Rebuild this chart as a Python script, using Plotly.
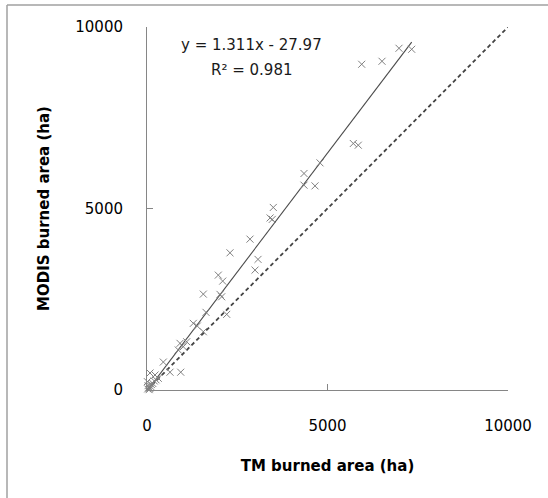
import plotly.graph_objects as go

# TM burned area (ha) vs MODIS burned area (ha)
tm_area = [6981, 7332, 5947, 6510, 5715, 5853, 4792, 4349, 4349, 4654,
           3499, 3410, 3470, 2853, 2299, 3075, 2992, 1975, 2097, 1560,
           2022, 2069, 1634, 2208, 1283, 1393, 1560, 914, 1100, 1006,
           867, 452, 637, 934, 83, 222, 313, 10, 20, 50,
           80, 120, 160, 200, 250, 30, 60, 100]
modis_area = [9414, 9386, 8973, 9056, 6791, 6744, 6257, 5965, 5643, 5623,
              5029, 4740, 4700, 4156, 3779, 3598, 3303, 3165, 3000, 2642,
              2634, 2568, 2139, 2084, 1836, 1762, 1605, 1285, 1329, 1192,
              1101, 770, 490, 490, 468, 413, 322, 230, 30, 80,
              40, 150, 180, 250, 280, 120, 10, 100]

slope = 1.311
intercept = -27.97
r2 = 0.981
axis_ticks = [0, 5000, 10000]
axis_tick_labels = ["0", "5000", "10000"]

W, H = 548, 498
L, R, T, B = 147, 40, 27, 108
pw, ph = W - L - R, H - T - B
FONT = "DejaVu Sans"

fit_x = [min(tm_area), max(tm_area)]
fit_y = [slope * v + intercept for v in fit_x]

fig = go.Figure()
fig.add_trace(go.Scatter(x=[axis_ticks[0], axis_ticks[-1]], y=[axis_ticks[0], axis_ticks[-1]],
                         mode="lines", line=dict(color="#444444", width=1.8, dash="4px,3px"),
                         showlegend=False, hoverinfo="skip"))
fig.add_trace(go.Scatter(x=fit_x, y=fit_y, mode="lines",
                         line=dict(color="#4a4a4a", width=1.1), showlegend=False,
                         cliponaxis=False))
fig.add_trace(go.Scatter(x=tm_area, y=modis_area, mode="markers",
                         marker=dict(symbol="x-thin-open", size=7,
                                     line=dict(color="#808080", width=1), color="#808080"),
                         showlegend=False, cliponaxis=False))

axis_common = dict(range=[0, 10000], tickvals=axis_ticks, ticktext=axis_tick_labels,
                   ticks="inside", ticklen=6,
                   tickcolor="#868686", showline=True, linecolor="#868686", linewidth=1,
                   showgrid=False, zeroline=False,
                   tickfont=dict(family=FONT, size=15, color="#000000"))

eq_font = dict(family=FONT, size=15, color="#1a1a1a")
fig.update_layout(
    width=W, height=H,
    margin=dict(l=L, r=R, t=T, b=B),
    paper_bgcolor="white", plot_bgcolor="white",
    xaxis=dict(**axis_common, ticklabelstandoff=22,
               title=dict(text="<b>TM burned area (ha)</b>", standoff=26,
                          font=dict(family=FONT, size=15, color="#000000"))),
    yaxis=dict(**axis_common, ticklabelstandoff=20,
               title=dict(text="<b>MODIS burned area (ha)</b>", standoff=22,
                          font=dict(family=FONT, size=15, color="#000000"))),
    annotations=[
        dict(text=f"y = {slope}x - {abs(intercept)}", xref="paper", yref="paper",
             x=(251 - L) / pw, y=(390 - 45) / ph, xanchor="center", yanchor="middle",
             showarrow=False, font=eq_font),
        dict(text=f"R² = {r2}", xref="paper", yref="paper",
             x=(251 - L) / pw, y=(390 - 70) / ph, xanchor="center", yanchor="middle",
             showarrow=False, font=eq_font),
    ],
    shapes=[
        dict(type="line", xref="paper", yref="paper",
             x0=(7 - L) / pw, x1=(W - L) / pw, y0=(390 - 5) / ph, y1=(390 - 5) / ph,
             line=dict(color="#a0a0a0", width=1.5)),
        dict(type="line", xref="paper", yref="paper",
             x0=(7 - L) / pw, x1=(7 - L) / pw, y0=(390 - 5) / ph, y1=(390 - H) / ph,
             line=dict(color="#a0a0a0", width=1.5)),
    ],
)

fig.write_html("out.html", config={"displayModeBar": False})

# remove the browser's default page margin so the figure sits at the window origin
with open("out.html", "r", encoding="utf-8") as f:
    html = f.read()
html = html.replace("<head>", "<head><style>html,body{margin:0;padding:0;overflow:hidden}</style>", 1)
with open("out.html", "w", encoding="utf-8") as f:
    f.write(html)
